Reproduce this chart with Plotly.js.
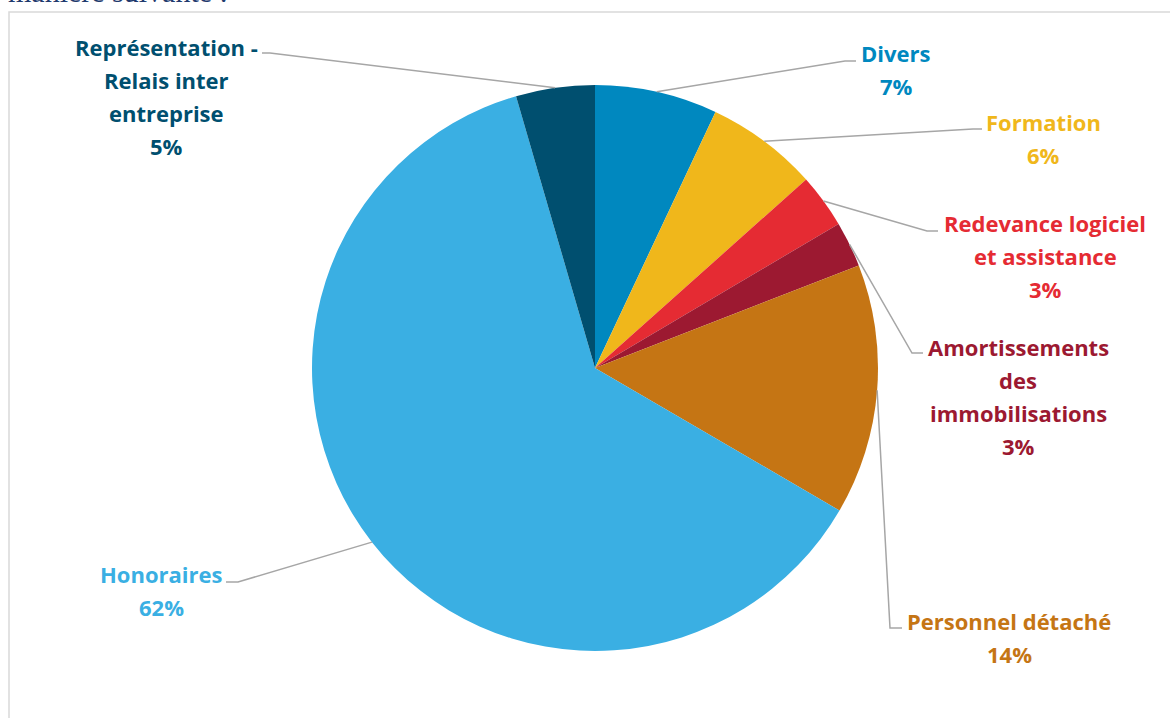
<!DOCTYPE html>
<html>
<head>
<meta charset="utf-8">
<script src="https://cdn.plot.ly/plotly-3.0.1.min.js"></script>
<style>
  body { margin: 0; padding: 0; background: #fff; }
  #chart { width: 1170px; height: 718px; }
</style>
</head>
<body>
<div id="chart"></div>
<script>
// slices, clockwise from 12 o'clock
var categories = ['Divers', 'Formation', 'Redevance logiciel\net assistance',
                  'Amortissements\ndes\nimmobilisations', 'Personnel détaché',
                  'Honoraires', 'Représentation -\nRelais inter\nentreprise'];
var shares = [7.0, 6.4, 3.1, 2.6, 14.3, 62.1, 4.5];
var colors = ['#0088BF', '#F0B71B', '#E52B33', '#9C1931', '#C57514', '#3AAFE3', '#004F6F'];

// label placement (pixels): text centre x, first line y, elbow x, end x, elbow/end y
var labelX = [896, 1043, 1045, 1018, 1009, 161, 166];
var labelY = [53, 122, 223, 347, 621, 574, 47];
var elbowX = [845, 973, 927, 912, 890, 238, 270];
var endX   = [856, 982, 938, 923, 902, 226, 262];
var elbowY = [61, 129, 231, 353, 628, 582, 53];

var W = 1170, H = 718;
var cx = 595, cy = 368, R = 283;
var lineH = 33;

function px(x) { return x / W; }
function py(y) { return 1 - y / H; }

var total = shares.reduce(function(a, b) { return a + b; }, 0);

var annotations = [];
var shapes = [];

// frame around the chart
shapes.push({
    type: 'rect', xref: 'paper', yref: 'paper',
    x0: px(9), x1: px(1180), y0: py(730), y1: py(12),
    line: {color: '#D9D9D9', width: 1.5}
});

var cum = 0;
for (var i = 0; i < shares.length; i++) {
    var mid = (cum + shares[i] / 2) / total * 2 * Math.PI;
    cum += shares[i];
    var sx = cx + R * Math.sin(mid);
    var sy = cy - R * Math.cos(mid);

    shapes.push({
        type: 'path', xref: 'paper', yref: 'paper',
        path: 'M ' + px(sx) + ',' + py(sy) + ' L ' + px(elbowX[i]) + ',' + py(elbowY[i]) +
              ' L ' + px(endX[i]) + ',' + py(elbowY[i]),
        line: {color: '#A6A6A6', width: 1.5}
    });

    var lines = categories[i].split('\n');
    lines.push(Math.round(shares[i] / total * 100) + '%');
    for (var k = 0; k < lines.length; k++) {
        annotations.push({
            xref: 'paper', yref: 'paper',
            x: px(labelX[i]), y: py(labelY[i] + k * lineH),
            xanchor: 'center', yanchor: 'middle',
            text: '<b>' + lines[k] + '</b>', showarrow: false,
            font: {family: 'Open Sans, sans-serif', size: 22, color: colors[i]}
        });
    }
}

// bit of the document text above the chart (cut off by the page edge)
annotations.push({
    xref: 'paper', yref: 'paper', x: px(6), y: py(-8),
    xanchor: 'left', yanchor: 'middle', showarrow: false,
    text: 'manière suivante :',
    font: {family: 'Liberation Serif, serif', size: 30, color: '#1F3A6E'}
});

var trace = {
    type: 'pie',
    labels: categories,
    values: shares,
    sort: false,
    direction: 'clockwise',
    rotation: 0,
    textinfo: 'none',
    hoverinfo: 'label+percent',
    marker: {colors: colors, line: {width: 0}},
    domain: {x: [px(cx - R), px(cx + R)], y: [py(cy + R), py(cy - R)]}
};

var layout = {
    width: W, height: H,
    margin: {l: 0, r: 0, t: 0, b: 0},
    showlegend: false,
    paper_bgcolor: '#FFFFFF',
    shapes: shapes,
    annotations: annotations
};

Plotly.newPlot('chart', [trace], layout, {displayModeBar: false});
</script>
</body>
</html>
